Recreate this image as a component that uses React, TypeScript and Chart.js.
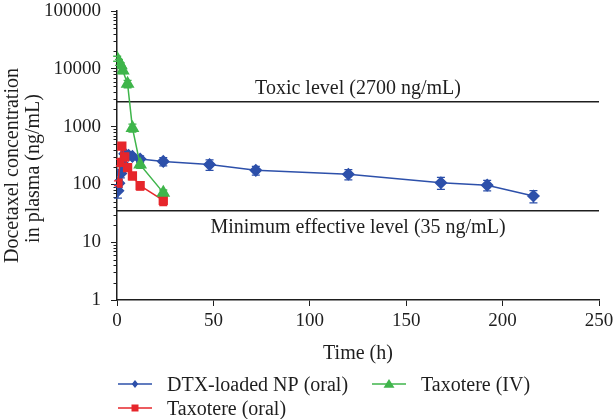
import React, { useEffect, useRef } from 'react';
import { Chart, registerables } from 'chart.js';

Chart.register(...registerables);

// ---- Data ----
const npTimes = [0.5, 1, 2, 3, 4, 6, 8, 12, 24, 48, 72, 120, 168, 192, 216];
const npValues = [78, 105, 155, 230, 340, 320, 305, 275, 250, 220, 175, 150, 107, 97, 63];
const npErrors = [20, 15, 25, 35, 40, 30, 30, 35, 40, 45, 30, 30, 25, 20, 15];

const ivTimes = [0.1, 1, 2, 3, 5.5, 8, 12, 24];
const ivValues = [15000, 13000, 11500, 9300, 5500, 950, 220, 72];
const ivErrors = [1500, 1500, 1200, 1000, 800, 150, 30, 8];

const oralTimes = [0.5, 1.5, 2.5, 4, 5.5, 8, 12, 24];
const oralValues = [105, 240, 460, 300, 195, 140, 95, 53];
const oralErrors = [10, 30, 50, 30, 25, 20, 15, 10];

const seriesNames = ['DTX-loaded NP (oral)', 'Taxotere (IV)', 'Taxotere (oral)'];
const seriesColors = ['#2d50aa', '#3fb54b', '#e6262b'];

const xTickValues = [0, 50, 100, 150, 200, 250];
const yTickValues = [1, 10, 100, 1000, 10000, 100000];

const toxicLevel = 2700;
const minEffectiveLevel = 35;
const toxicLabel = 'Toxic level (2700 ng/mL)';
const minLabel = 'Minimum effective level (35 ng/mL)';
const xTitle = 'Time (h)';
const yTitle = ['Docetaxel concentration', 'in plasma (ng/mL)'];

const FONT = '"Liberation Serif", "Times New Roman", serif';
const TEXT = '#1e1e1e';

function toPoints(t: number[], v: number[]) {
  return t.map((x, i) => ({ x, y: v[i] }));
}

function drawMarker(ctx: CanvasRenderingContext2D, style: string, x: number, y: number, r: number, color: string) {
  ctx.save();
  ctx.fillStyle = color;
  ctx.beginPath();
  if (style === 'rectRot') {
    ctx.moveTo(x, y - r);
    ctx.lineTo(x + r * 0.8, y);
    ctx.lineTo(x, y + r);
    ctx.lineTo(x - r * 0.8, y);
  } else if (style === 'rect') {
    ctx.rect(x - r, y - r, 2 * r, 2 * r);
  } else {
    ctx.moveTo(x, y - r);
    ctx.lineTo(x + r * 1.1, y + r * 0.75);
    ctx.lineTo(x - r * 1.1, y + r * 0.75);
  }
  ctx.closePath();
  ctx.fill();
  ctx.restore();
}

const overlayPlugin = {
  id: 'overlay',
  beforeDatasetsDraw(chart: any) {
    const { ctx, chartArea, scales } = chart;
    const x = scales.x;
    const y = scales.y;
    ctx.save();
    // reference lines
    ctx.strokeStyle = TEXT;
    ctx.lineWidth = 1.5;
    [toxicLevel, minEffectiveLevel].forEach((v) => {
      const py = y.getPixelForValue(v);
      ctx.beginPath();
      ctx.moveTo(chartArea.left, py);
      ctx.lineTo(chartArea.right, py);
      ctx.stroke();
    });
    ctx.fillStyle = TEXT;
    ctx.font = `20px ${FONT}`;
    ctx.textAlign = 'center';
    ctx.textBaseline = 'alphabetic';
    const cx = (chartArea.left + chartArea.right) / 2;
    ctx.fillText(toxicLabel, cx, y.getPixelForValue(toxicLevel) - 8);
    ctx.fillText(minLabel, cx, y.getPixelForValue(minEffectiveLevel) + 22);

    // minor log ticks
    ctx.lineWidth = 1;
    for (let d = 0; d < 5; d++) {
      for (let m = 2; m <= 9; m++) {
        const py = Math.round(y.getPixelForValue(m * Math.pow(10, d))) + 0.5;
        ctx.beginPath();
        ctx.moveTo(chartArea.left - 3.5, py);
        ctx.lineTo(chartArea.left, py);
        ctx.stroke();
      }
    }

    // error bars
    chart.data.datasets.forEach((ds: any) => {
      const errs: number[] = ds.errors;
      ctx.strokeStyle = ds.borderColor;
      ctx.lineWidth = 1.3;
      ds.data.forEach((p: any, i: number) => {
        const px = x.getPixelForValue(p.x);
        const hi = y.getPixelForValue(p.y + errs[i]);
        const lo = y.getPixelForValue(Math.max(p.y - errs[i], 1e-9));
        ctx.beginPath();
        ctx.moveTo(px, hi);
        ctx.lineTo(px, lo);
        ctx.moveTo(px - 4, hi);
        ctx.lineTo(px + 4, hi);
        ctx.moveTo(px - 4, lo);
        ctx.lineTo(px + 4, lo);
        ctx.stroke();
      });
    });
    ctx.restore();
  },
  afterDraw(chart: any) {
    const { ctx, chartArea } = chart;
    ctx.save();
    ctx.fillStyle = TEXT;
    ctx.font = `20px ${FONT}`;
    ctx.textBaseline = 'alphabetic';
    ctx.textAlign = 'center';
    const cx = (chartArea.left + chartArea.right) / 2;
    ctx.fillText(xTitle, cx, chartArea.bottom + 59);

    const cy = (chartArea.top + chartArea.bottom) / 2;
    ctx.save();
    ctx.translate(18, cy + 10);
    ctx.rotate(-Math.PI / 2);
    ctx.fillText(yTitle[0], 0, 0);
    ctx.restore();
    ctx.save();
    ctx.translate(39, cy + 13);
    ctx.rotate(-Math.PI / 2);
    ctx.fillText(yTitle[1], 0, 0);
    ctx.restore();

    // legend
    const left = chartArea.left + 1;
    const row1 = chartArea.bottom + 84;
    const row2 = chartArea.bottom + 108;
    const items = [
      { name: seriesNames[0], color: seriesColors[0], style: 'rectRot', r: 4, lx: left, ly: row1 },
      { name: seriesNames[1], color: seriesColors[1], style: 'triangle', r: 5, lx: left + 254, ly: row1 },
      { name: seriesNames[2], color: seriesColors[2], style: 'rect', r: 3.5, lx: left, ly: row2 },
    ];
    ctx.textAlign = 'left';
    items.forEach((it) => {
      ctx.strokeStyle = it.color;
      ctx.lineWidth = 1.5;
      ctx.beginPath();
      ctx.moveTo(it.lx, it.ly);
      ctx.lineTo(it.lx + 34, it.ly);
      ctx.stroke();
      drawMarker(ctx, it.style, it.lx + 17, it.ly, it.r, it.color);
      ctx.fillStyle = TEXT;
      ctx.fillText(it.name, it.lx + 49, it.ly + 6.5);
    });
    ctx.restore();
  },
};

export default function App() {
  const ref = useRef<HTMLCanvasElement | null>(null);
  useEffect(() => {
    if (!ref.current) return;
    const chart = new Chart(ref.current, {
      type: 'line',
      data: {
        datasets: [
          {
            label: seriesNames[0],
            data: toPoints(npTimes, npValues),
            errors: npErrors,
            borderColor: seriesColors[0],
            backgroundColor: seriesColors[0],
            pointStyle: 'rectRot',
            pointRadius: 5.5,
            borderWidth: 1.5,
            order: 3,
          } as any,
          {
            label: seriesNames[2],
            data: toPoints(oralTimes, oralValues),
            errors: oralErrors,
            borderColor: seriesColors[2],
            backgroundColor: seriesColors[2],
            pointStyle: 'rect',
            pointRadius: 5.5,
            borderWidth: 1.5,
            order: 2,
          } as any,
          {
            label: seriesNames[1],
            data: toPoints(ivTimes, ivValues),
            errors: ivErrors,
            borderColor: seriesColors[1],
            backgroundColor: seriesColors[1],
            pointStyle: 'triangle',
            pointRadius: 6.5,
            borderWidth: 1.5,
            order: 1,
          } as any,
        ],
      },
      options: {
        animation: false,
        responsive: false,
        devicePixelRatio: 1,
        layout: { padding: { left: 0, right: 17, top: 11, bottom: 0 } },
        plugins: { legend: { display: false }, tooltip: { enabled: false } },
        elements: { line: { tension: 0 }, point: { borderWidth: 0 } },
        scales: {
          x: {
            type: 'linear',
            min: 0,
            max: 250,
            afterBuildTicks: (scale: any) => {
              scale.ticks = xTickValues.map((v) => ({ value: v }));
            },
            afterFit: (scale: any) => {
              scale.height = 119;
              scale.paddingLeft = 0;
              scale.paddingRight = 0;
            },
            grid: { drawOnChartArea: false, drawTicks: true, tickLength: 6, color: TEXT, lineWidth: 1 },
            border: { display: true, color: TEXT, width: 1.5 },
            ticks: { color: TEXT, font: { family: FONT, size: 19 }, padding: 4, maxRotation: 0 },
          },
          y: {
            type: 'logarithmic',
            min: 1,
            max: 100000,
            afterBuildTicks: (scale: any) => {
              scale.ticks = yTickValues.map((v) => ({ value: v, major: true }));
            },
            afterFit: (scale: any) => {
              scale.width = 117;
              scale.paddingTop = 0;
              scale.paddingBottom = 0;
            },
            grid: { drawOnChartArea: false, drawTicks: true, tickLength: 6, color: TEXT, lineWidth: 1 },
            border: { display: true, color: TEXT, width: 1.5 },
            ticks: {
              color: TEXT,
              font: { family: FONT, size: 19 },
              padding: 10,
              callback: (v: any) => String(v),
            },
          },
        },
      },
      plugins: [overlayPlugin],
    });
    return () => chart.destroy();
  }, []);
  return (
    <div style={{ position: 'fixed', left: 0, top: 0, width: 616, height: 419, background: '#fff' }}>
      <canvas ref={ref} width={616} height={419} style={{ width: 616, height: 419 }} />
    </div>
  );
}
